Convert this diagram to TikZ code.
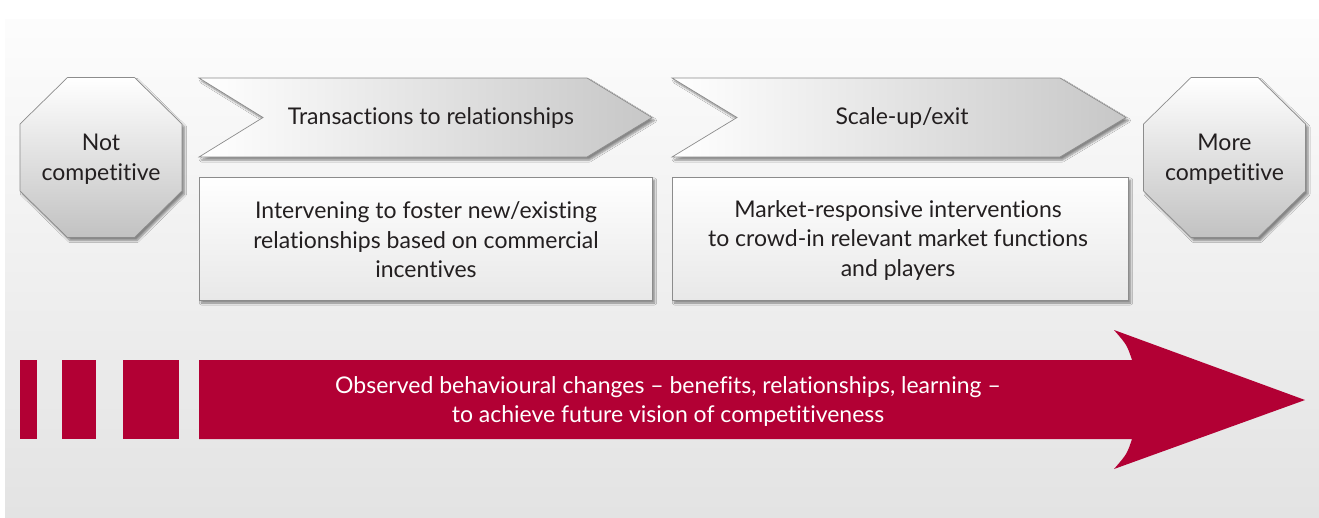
\documentclass[tikz,border=0pt]{standalone}
\usepackage{fontspec}
\setmainfont{Lato}[Ligatures=NoCommon]
\usetikzlibrary{shadows.blur}
\definecolor{redarrow}{RGB}{178,0,52}
\definecolor{txt}{RGB}{35,31,32}
\definecolor{edge}{RGB}{140,140,140}
\newcommand{\diagfont}{\fontsize{23}{29.5}\selectfont}
\begin{document}
\begin{tikzpicture}[x=1pt,y=-1pt,
  shd/.style={blur shadow={shadow xshift=2.5pt,shadow yshift=-3pt,shadow blur steps=6,shadow opacity=45}},
  octbody/.style={draw=edge,line width=0.7pt,top color=white,bottom color=black!24,shd},
  octtext/.style={text=txt,align=center,font=\diagfont,inner sep=0pt},
  chev/.style={draw=edge,line width=0.7pt,left color=white,right color=black!22,shd},
  chevtext/.style={text=txt,font=\diagfont,inner sep=0pt},
  descbox/.style={draw=edge,line width=0.7pt,top color=white,bottom color=black!9,shd},
  desctext/.style={text=txt,align=center,font=\diagfont,inner sep=0pt},
  stripe/.style={fill=redarrow},
  arrowtext/.style={text=white,align=center,font=\diagfont,inner sep=0pt}]
\useasboundingbox (0,0) rectangle (1319,517);
\fill[white] (0,0) rectangle (1319,517);
\fill[top color=black!1,bottom color=black!11] (5,19) rectangle (1319,517);

% octagons
\draw[octbody,shift={(101,157.5)}] (-33.5,-80) -- (33.5,-80) -- (81,-33.5) -- (81,33.5)
  -- (33.5,80) -- (-33.5,80) -- (-81,33.5) -- (-81,-33.5) -- cycle;
\node[octtext] (notc) at (101,159) {Not\\competitive};
\draw[octbody,shift={(1224.5,157.5)}] (-33.5,-80) -- (33.5,-80) -- (81,-33.5) -- (81,33.5)
  -- (33.5,80) -- (-33.5,80) -- (-81,33.5) -- (-81,-33.5) -- cycle;
\node[octtext] (morec) at (1224.5,159) {More\\competitive};

% chevrons
\draw[chev] (199,78) -- (587,78) -- (652,117.5) -- (587,157) -- (199,157) -- (263,117.5) -- cycle;
\node[chevtext] (chevA) at (431,117.5) {Transactions to relationships};
\draw[chev] (672,78) -- (1060,78) -- (1126,117.5) -- (1060,157) -- (672,157) -- (737,117.5) -- cycle;
\node[chevtext] (chevB) at (902,117.5) {Scale-up/exit};

% description boxes
\draw[descbox] (199,177) rectangle (652,300);
\node[desctext] (descA) at (426,240) {Intervening to foster new/existing\\relationships based on commercial\\incentives};
\draw[descbox] (672,177) rectangle (1128,300);
\node[desctext] (descB) at (898,240) {Market-responsive interventions\\to crowd-in relevant market functions\\and players};

% red arrow
\fill[stripe] (20,360) rectangle (37,439);
\fill[stripe] (62,360) rectangle (96,439);
\fill[stripe] (123,360) rectangle (179,439);
\fill[redarrow] (199,360) -- (1132,360) .. controls (1127,345) .. (1114,330) -- (1305,400)
  -- (1114,469) .. controls (1127,454) .. (1132,439) -- (199,439) -- cycle;
\node[arrowtext] (obs) at (668,401.5) {Observed behavioural changes -- benefits, relationships, learning --\\to achieve future vision of competitiveness};
\end{tikzpicture}
\end{document}
